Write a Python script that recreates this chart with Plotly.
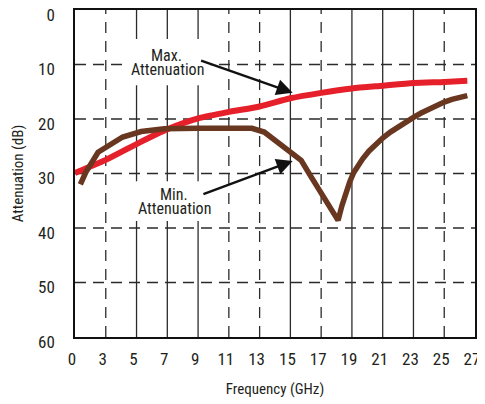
import plotly.graph_objects as go

# Axis positions (the chart's x axis spans 1..27 with the first tick labelled "0")
tick_pos = [1, 3, 5, 7, 9, 11, 13, 15, 17, 19, 21, 23, 25, 27]
tick_text = ["0", "3", "5", "7", "9", "11", "13", "15", "17", "19", "21", "23", "25", "27"]
solid_grid = [5, 7, 9, 15, 19, 21, 23]
dashed_grid = [3, 11, 13, 17, 25]
y_ticks = [0, 10, 20, 30, 40, 50, 60]

# Max. attenuation (red)
max_freq = [1.0, 3, 5, 7, 9, 11, 13, 15, 17, 19, 21, 23, 25, 26.5]
max_att = [29.9, 27.5, 24.6, 21.9, 19.9, 18.7, 17.7, 16.2, 15.2, 14.4, 13.9, 13.4, 13.2, 13.0]

# Min. attenuation (brown)
min_freq = [1.35, 1.7, 2.5, 3.2, 4.1, 5.3, 6.8, 9, 11, 12.5, 13.3, 14.0, 14.8, 15.7,
            16.3, 17.0, 17.6, 18.1, 18.35, 18.6, 18.85, 19.1, 19.4, 19.7, 20.1, 20.5, 21.0,
            21.5, 22.0, 22.5, 23.0, 23.5, 24.0, 24.5, 25.0, 25.5, 26.0, 26.5]
min_att = [32.0, 29.8, 26.1, 24.8, 23.3, 22.3, 21.8, 21.7, 21.7, 21.7, 22.4, 23.9, 25.6, 27.6,
           30.4, 33.5, 36.3, 38.6, 35.9, 33.6, 31.6, 29.9, 28.5, 27.3, 25.9, 24.8, 23.5,
           22.4, 21.4, 20.5, 19.7, 18.9, 18.2, 17.5, 16.9, 16.4, 16.0, 15.7]

FONT = "Roboto Condensed, Liberation Sans Narrow, sans-serif"
TXT = "#231f20"

fig = go.Figure()
fig.add_trace(go.Scatter(x=max_freq, y=max_att, mode="lines",
                         line=dict(color="#e5202a", width=6, shape="spline", smoothing=0.6),
                         hoverinfo="skip", showlegend=False))
fig.add_trace(go.Scatter(x=min_freq, y=min_att, mode="lines",
                         line=dict(color="#693720", width=5.5),
                         hoverinfo="skip", showlegend=False))

shapes = []
for gx in solid_grid:
    shapes.append(dict(type="line", xref="x", yref="paper", x0=gx, x1=gx, y0=0, y1=1,
                       line=dict(color="#2b2b2b", width=1.3), layer="below"))
for gx in dashed_grid:
    shapes.append(dict(type="line", xref="x", yref="paper", x0=gx, x1=gx, y0=0, y1=1,
                       line=dict(color="#2b2b2b", width=1.3, dash="11px,8px"), layer="below"))
for gy in y_ticks[1:-1]:
    shapes.append(dict(type="line", xref="paper", yref="y", x0=0, x1=1, y0=gy, y1=gy,
                       line=dict(color="#2b2b2b", width=1.3, dash="11px,7px"), layer="below"))
# white backgrounds behind the two callout labels
shapes.append(dict(type="rect", xref="x", yref="y", x0=4.1, x1=9.8, y0=5.3, y1=13.8,
                   fillcolor="white", line=dict(width=0), layer="above"))
shapes.append(dict(type="rect", xref="x", yref="y", x0=4.3, x1=10.0, y0=31.4, y1=38.7,
                   fillcolor="white", line=dict(width=0), layer="above"))
fig.update_layout(shapes=shapes)

lab = dict(family=FONT, size=16, color=TXT)
annotations = [
    dict(x=6.92, y=8.35, xref="x", yref="y", text="Max.", showarrow=False, font=lab,
         xanchor="center", yanchor="middle"),
    dict(x=6.98, y=11.0, xref="x", yref="y", text="Attenuation", showarrow=False, font=lab,
         xanchor="center", yanchor="middle"),
    dict(x=15.15, y=15.2, xref="x", yref="y", ax=9.1, ay=9.2, axref="x", ayref="y",
         text="", showarrow=True, arrowhead=2, arrowsize=1.35, arrowwidth=2.4, arrowcolor="#111"),
    dict(x=7.43, y=33.8, xref="x", yref="y", text="Min.", showarrow=False, font=lab,
         xanchor="center", yanchor="middle"),
    dict(x=7.46, y=36.4, xref="x", yref="y", text="Attenuation", showarrow=False, font=lab,
         xanchor="center", yanchor="middle"),
    dict(x=15.15, y=27.7, xref="x", yref="y", ax=9.25, ay=33.9, axref="x", ayref="y",
         text="", showarrow=True, arrowhead=2, arrowsize=1.35, arrowwidth=2.4, arrowcolor="#111"),
]
fig.update_layout(annotations=annotations)

fig.update_xaxes(range=[1, 27], tickvals=tick_pos, ticktext=tick_text, showgrid=False,
                 zeroline=False, showline=True, mirror=True, linecolor="#111", linewidth=1.5,
                 ticks="", ticklabelstandoff=6, automargin=False, ticklabeloverflow="allow",
                 ticklabelshift=-3,
                 tickfont=dict(family=FONT, size=17, color=TXT),
                 title=dict(text="Frequency (GHz)", font=dict(family=FONT, size=15, color=TXT),
                            standoff=15))
fig.update_yaxes(range=[60, 0], tickvals=y_ticks, showgrid=False, zeroline=False,
                 showline=True, mirror=True, linecolor="#111", linewidth=1.5,
                 ticks="", ticklabelstandoff=15, automargin=False, ticklabeloverflow="allow",
                 ticklabelshift=-5,
                 tickfont=dict(family=FONT, size=17, color=TXT),
                 title=dict(text="Attenuation (dB)", font=dict(family=FONT, size=15, color=TXT),
                            standoff=11))

# the page body adds an 8px offset, so the figure is sized to fit the 485x404 window
fig.update_layout(width=477, height=396, margin=dict(l=67, r=10, t=2, b=67),
                  plot_bgcolor="white", paper_bgcolor="white")

fig.write_html("out.html")
